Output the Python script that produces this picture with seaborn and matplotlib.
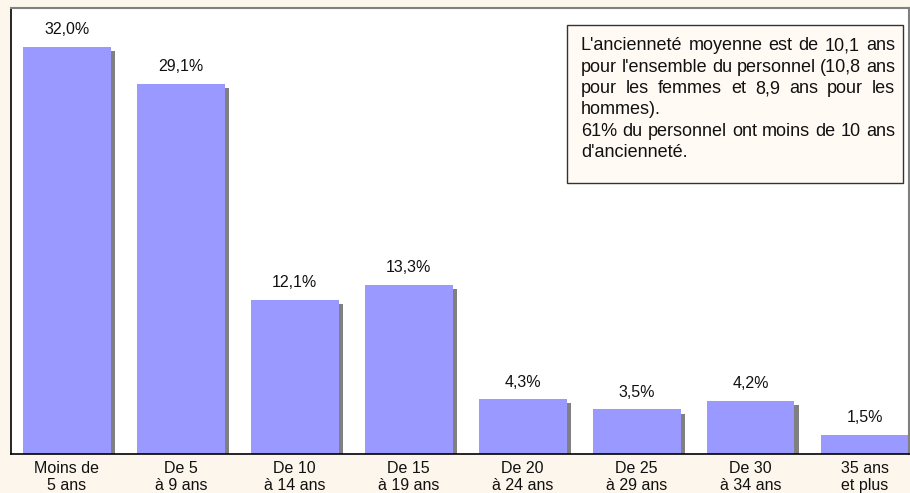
import matplotlib
matplotlib.use("Agg")
import matplotlib.pyplot as plt
import matplotlib.patheffects as pe
import seaborn as sns
import pandas as pd

categories = ["Moins de\n5 ans", "De 5\nà 9 ans", "De 10\nà 14 ans", "De 15\nà 19 ans",
              "De 20\nà 24 ans", "De 25\nà 29 ans", "De 30\nà 34 ans", "35 ans\net plus"]
values = [32.0, 29.1, 12.1, 13.3, 4.3, 3.5, 4.2, 1.5]
value_labels = ["32,0%", "29,1%", "12,1%", "13,3%", "4,3%", "3,5%", "4,2%", "1,5%"]
note_lines = [
    "L'ancienneté moyenne est de 10,1 ans",
    "pour l'ensemble du personnel (10,8 ans",
    "pour les femmes et 8,9 ans pour les",
    "hommes).",
    "61% du personnel ont moins de 10 ans",
    "d'ancienneté.",
]
justified = [True, True, True, False, True, False]

sns.set_style("white")
plt.rcParams["font.family"] = ["Liberation Sans", "DejaVu Sans"]

bg = "#FDF6EC"
fig = plt.figure(figsize=(9.1, 4.93), dpi=100, facecolor=bg)
ax = fig.add_axes([11/910, 1 - 454/493, 898/910, (454 - 8)/493])
ax.set_facecolor("white")

df = pd.DataFrame({"cat": categories, "val": values})
sns.barplot(data=df, x="cat", y="val", color="#9999FF", saturation=1, width=0.77, ax=ax)
for p in ax.patches:
    p.set_edgecolor("none")
    p.set_path_effects([pe.SimplePatchShadow(offset=(3, -3), shadow_rgbFace="#808080", alpha=1.0),
                        pe.Normal()])

for i, (v, lab) in enumerate(zip(values, value_labels)):
    ax.text(i, v + 1.35, lab, ha="center", va="center", fontsize=11.5, color="#111111")

ax.set_ylim(0, 35.06)
ax.set_xlim(-0.49, 7.39)
ax.set_yticks([])
ax.set_xlabel("")
ax.set_ylabel("")
ax.tick_params(axis="x", length=0, pad=5, labelsize=11.5, colors="#111111")
for s in ["left", "bottom"]:
    ax.spines[s].set_color("black")
    ax.spines[s].set_linewidth(1.2)
ax.spines["top"].set_color("#808080")
ax.spines["top"].set_linewidth(1.5)
ax.spines["right"].set_color("#808080")
ax.spines["right"].set_linewidth(1.5)

# annotation box
bx0, by0, bx1, by1 = 567/910, 1 - 183/493, 903/910, 1 - 25/493
rect = plt.Rectangle((bx0, by0), bx1 - bx0, by1 - by0, transform=fig.transFigure,
                     facecolor="#FFFAF3", edgecolor="#333333", linewidth=1.0, zorder=5)
fig.patches.append(rect)

renderer = fig.canvas.get_renderer()
x_left, x_right = 581, 895
fs = 13
for k, (line, just) in enumerate(zip(note_lines, justified)):
    y = 1 - (46 + k*21.3)/493
    if not just:
        fig.text(x_left/910, y, line, ha="left", va="center", fontsize=fs, color="#111111", zorder=6)
        continue
    words = line.split(" ")
    objs = [fig.text(0, y, w, ha="left", va="center", fontsize=fs, color="#111111", zorder=6) for w in words]
    widths = [o.get_window_extent(renderer).width for o in objs]
    gap = (x_right - x_left - sum(widths)) / (len(words) - 1)
    x = x_left
    for o, w in zip(objs, widths):
        o.set_x(x/910)
        x += w + gap

fig.savefig("out.png", dpi=100, facecolor=bg)
